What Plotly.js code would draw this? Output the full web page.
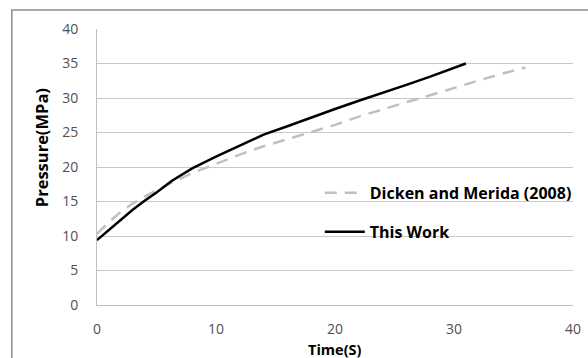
<!DOCTYPE html>
<html><head><meta charset="utf-8">
<script src="https://cdn.plot.ly/plotly-3.0.1.min.js"></script>
<style>html,body{margin:0;padding:0;background:#fff}#c{width:588px;height:358px}</style>
</head><body><div id="c"></div>
<script>
const dickenT = [0, 1, 2, 3, 4, 5, 6, 8, 10, 12, 14, 16, 18, 20, 22, 24, 26, 28, 30, 32, 34, 36];
const dickenP = [10.3, 12.0, 13.5, 14.7, 15.7, 16.6, 17.5, 19.1, 20.5, 21.8, 23.0, 24.0, 25.1, 26.1, 27.3, 28.4, 29.4, 30.4, 31.5, 32.5, 33.5, 34.4];
const workT = [0, 1, 2, 3, 4, 5, 6.3, 8, 10, 12, 14, 16, 18, 20, 22, 24, 26, 28, 30, 31];
const workP = [9.4, 10.9, 12.4, 13.8, 15.1, 16.3, 18.0, 19.8, 21.5, 23.1, 24.7, 25.9, 27.2, 28.4, 29.6, 30.7, 31.9, 33.1, 34.4, 35.0];
const xTicks = [0, 10, 20, 30, 40];
const yTicks = [0, 5, 10, 15, 20, 25, 30, 35, 40];
const names = ["Dicken and Merida (2008)", "This Work"];
const xTitle = "Time(S)";
const yTitle = "Pressure(MPa)";

const font = "Open Sans, Liberation Sans, sans-serif";
const traces = [
  {x: dickenT, y: dickenP, name: names[0], mode: "lines", type: "scatter",
   line: {color: "#c0c0c0", width: 2.5, dash: "12px,8px"}, legend: "legend"},
  {x: workT, y: workP, name: names[1], mode: "lines", type: "scatter",
   line: {color: "#000000", width: 2.5}, legend: "legend2"}
];
const legendFont = {family: font, size: 16, color: "#000", weight: "bold"};
const layout = {
  width: 588, height: 358,
  margin: {l: 97, r: 11, t: 29, b: 53},
  paper_bgcolor: "#fff", plot_bgcolor: "#fff",
  showlegend: true,
  legend: {x: 0.468, y: 0.406, xanchor: "left", yanchor: "middle", bgcolor: "rgba(0,0,0,0)", font: legendFont, itemwidth: 40},
  legend2: {x: 0.468, y: 0.265, xanchor: "left", yanchor: "middle", bgcolor: "rgba(0,0,0,0)", font: legendFont, itemwidth: 40},
  xaxis: {range: [0, 40], tickvals: xTicks, ticktext: xTicks.map(String), showgrid: false, zeroline: false,
    showline: true, linecolor: "#bfbfbf", linewidth: 1, ticks: "", ticklabelstandoff: 11,
    tickfont: {family: font, size: 14, color: "#505050"}},
  yaxis: {range: [0, 40], tickvals: yTicks, ticktext: yTicks.map(String), showgrid: true, gridcolor: "#c8c8c8", gridwidth: 1,
    zeroline: false, showline: true, linecolor: "#bfbfbf", linewidth: 1, ticks: "", ticklabelstandoff: 15,
    tickfont: {family: font, size: 14, color: "#505050"}},
  annotations: [
    {text: yTitle, xref: "paper", yref: "paper", x: -0.115, y: 0.569, xanchor: "center", yanchor: "middle",
     textangle: -90, showarrow: false, font: {family: font, size: 16.5, color: "#000", weight: "bold"}},
    {text: xTitle, xref: "paper", yref: "paper", x: 0.5, y: -0.162, xanchor: "center", yanchor: "middle",
     showarrow: false, font: {family: font, size: 14.5, color: "#000", weight: "bold"}}
  ],
  shapes: [{type: "rect", xref: "paper", yref: "paper", x0: -0.179, x1: 1.2, y0: -0.4, y1: 1.069,
    line: {color: "#8c8c8c", width: 1.5}, layer: "below"}]
};
Plotly.newPlot("c", traces, layout, {staticPlot: true});
</script></body></html>
